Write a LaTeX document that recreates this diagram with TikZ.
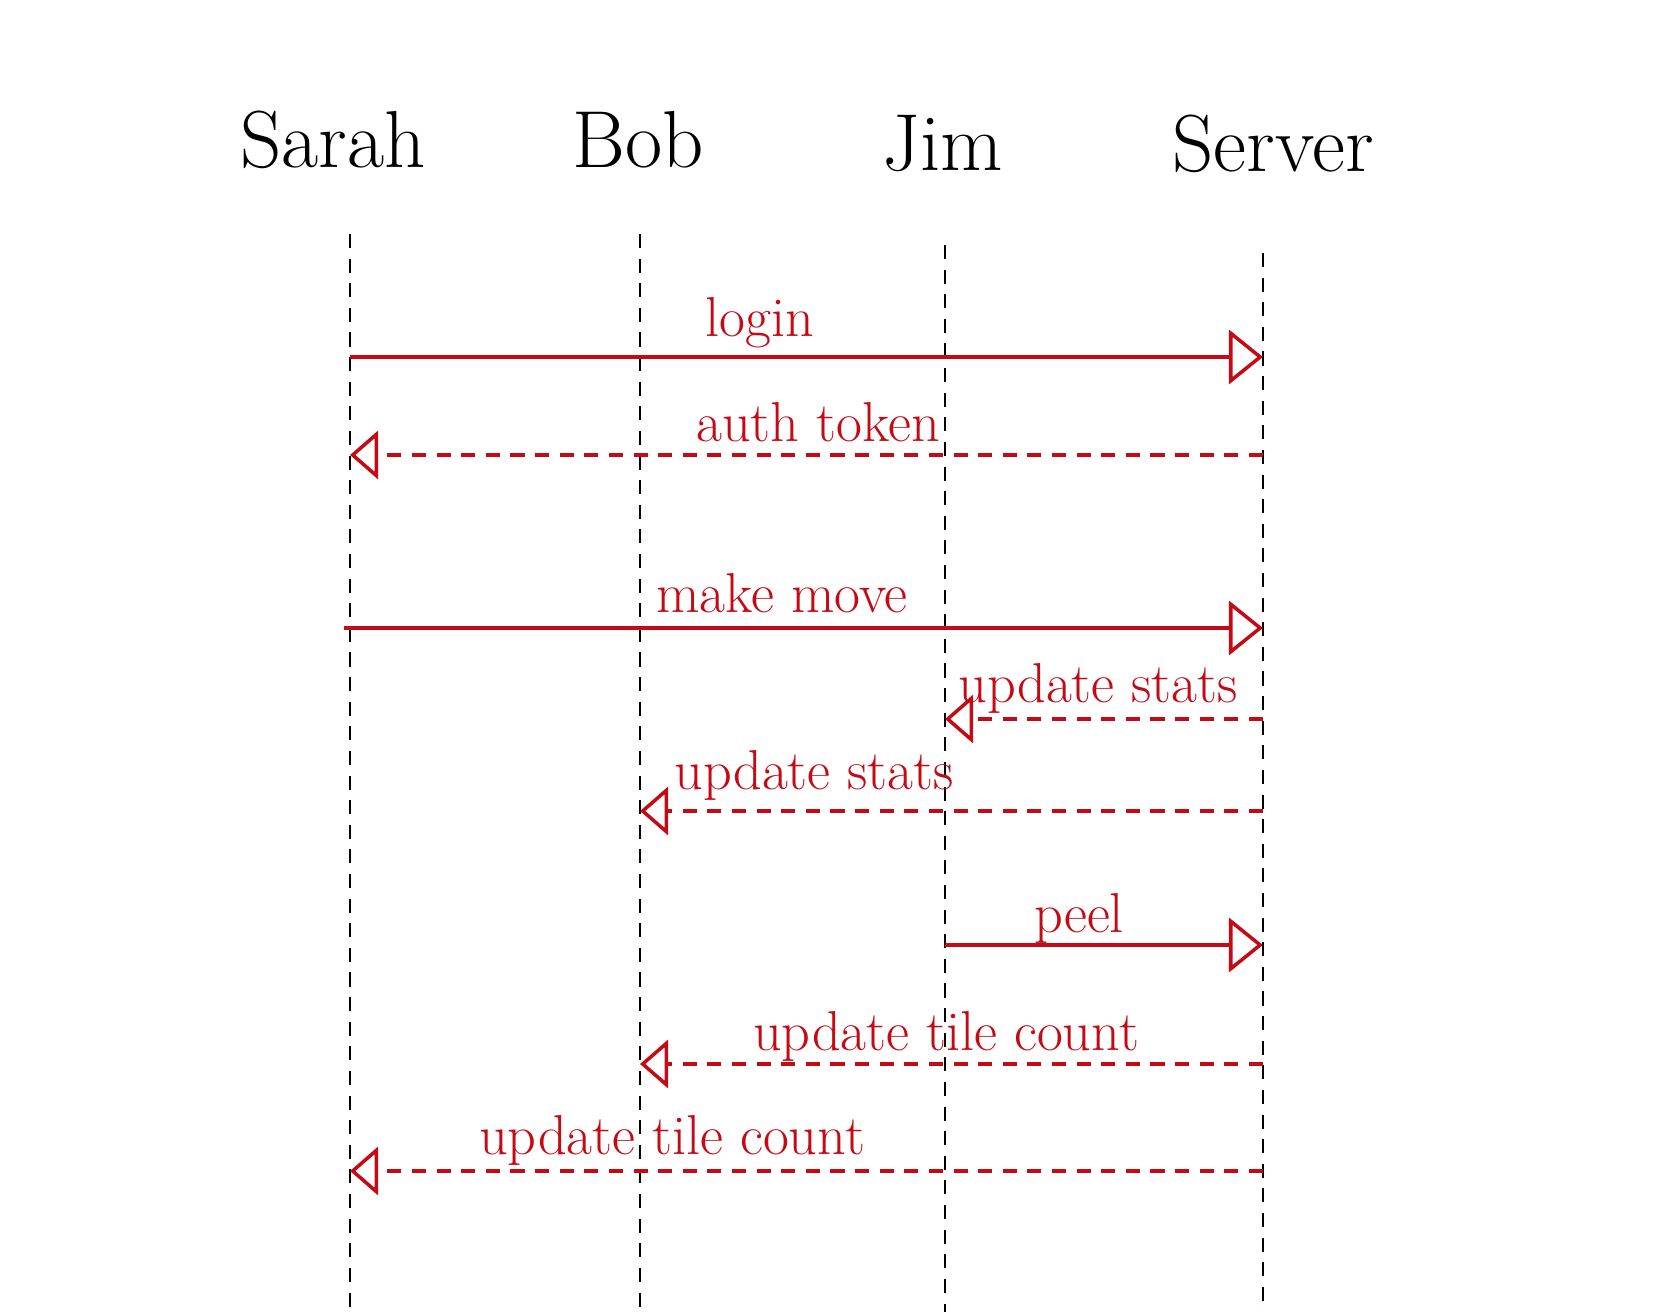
\documentclass[tikz,border=0pt]{standalone}
\usepackage{tikz}
\usetikzlibrary{arrows.meta}
\definecolor{msgred}{RGB}{196,10,20}
\tikzset{%
  actor/.style={font=\fontsize{23}{23}\selectfont, inner sep=0pt},
  lifeline/.style={black, line width=0.8pt, dash pattern=on 4pt off 3pt},
  msg/.style={msgred, line width=1pt, -{Triangle[open, length=3.4mm, width=5.4mm]}},
  reply/.style={msgred, line width=1pt, dash pattern=on 4pt off 3pt, -{Triangle[open, length=2.8mm, width=4.8mm]}},
  msglabel/.style={msgred, font=\fontsize{16}{16}\selectfont, inner sep=0pt, anchor=base}}

\begin{document}
\begin{tikzpicture}[x=0.01cm, y=-0.01cm]
\useasboundingbox (0,0) rectangle (1668,1312);
% actors
\node[actor] (sarah) at (333,140) {Sarah};
\node[actor] (bob) at (638,140) {Bob};
\node[actor] (jim) at (943,144) {Jim};
\node[actor] (server) at (1273,144) {Server};
% lifelines
\coordinate (sarah top) at (350,234);
\coordinate (sarah bot) at (350,1312);
\coordinate (bob top) at (640,234);
\coordinate (bob bot) at (640,1312);
\coordinate (jim top) at (945,245);
\coordinate (jim bot) at (945,1312);
\coordinate (server top) at (1263,253);
\coordinate (server bot) at (1263,1312);
\draw[lifeline] (sarah top) -- (sarah bot);
\draw[lifeline] (bob top) -- (bob bot);
\draw[lifeline] (jim top) -- (jim bot);
\draw[lifeline] (server top) -- (server bot);
% messages
\coordinate (login a) at (350,357);
\coordinate (login b) at (1263,357);
\draw[msg] (login a) -- (login b);
\node[msglabel] (login) at (760,337) {login};

\coordinate (auth a) at (1263,455);
\coordinate (auth b) at (350,455);
\draw[reply] (auth a) -- (auth b);
\node[msglabel] (auth) at (818,442) {auth token};

\coordinate (move a) at (344,628);
\coordinate (move b) at (1263,628);
\draw[msg] (move a) -- (move b);
\node[msglabel] (move) at (782,612) {make move};

\coordinate (statsj a) at (1263,719);
\coordinate (statsj b) at (945,719);
\draw[reply] (statsj a) -- (statsj b);
\node[msglabel] (statsj) at (1098,702) {update stats};

\coordinate (statsb a) at (1263,811);
\coordinate (statsb b) at (640,811);
\draw[reply] (statsb a) -- (statsb b);
\node[msglabel] (statsb) at (814,789) {update stats};

\coordinate (peel a) at (945,945);
\coordinate (peel b) at (1263,945);
\draw[msg] (peel a) -- (peel b);
\node[msglabel] (peel) at (1079,932) {peel};

\coordinate (tilesb a) at (1263,1064);
\coordinate (tilesb b) at (640,1064);
\draw[reply] (tilesb a) -- (tilesb b);
\node[msglabel] (tilesb) at (946,1050) {update tile count};

\coordinate (tiless a) at (1263,1171);
\coordinate (tiless b) at (350,1171);
\draw[reply] (tiless a) -- (tiless b);
\node[msglabel] (tiless) at (672,1154) {update tile count};
\end{tikzpicture}
\end{document}
